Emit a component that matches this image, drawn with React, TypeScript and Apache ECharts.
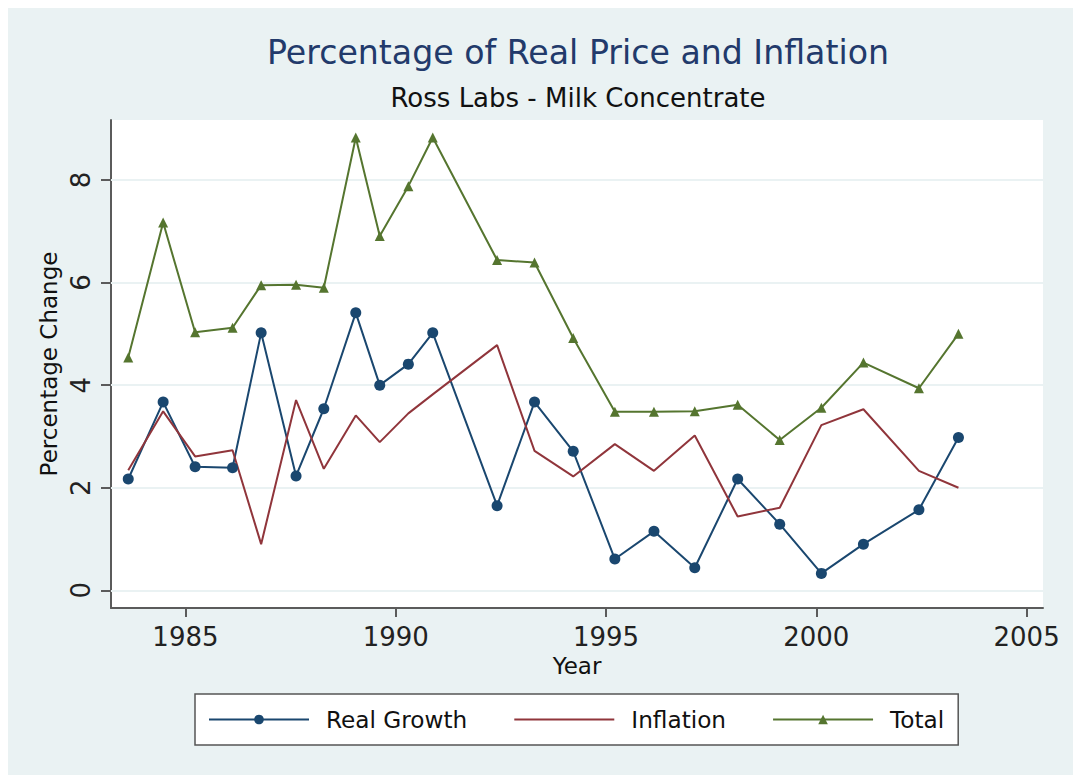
import React, { useEffect, useRef } from "react";
import * as echarts from "echarts";

// Data
const years = [1983.64, 1984.47, 1985.23, 1986.12, 1986.8, 1987.63, 1988.29, 1989.05, 1989.62, 1990.3, 1990.88, 1992.41, 1993.3, 1994.22, 1995.21, 1996.14, 1997.11, 1998.13, 1999.13, 2000.12, 2001.12, 2002.44, 2003.38];
const realGrowth = [2.17, 3.67, 2.41, 2.39, 5.02, 2.23, 3.54, 5.41, 4.0, 4.41, 5.02, 1.65, 3.67, 2.71, 0.61, 1.15, 0.44, 2.17, 1.29, 0.33, 0.9, 1.57, 2.98];
const inflation = [2.34, 3.49, 2.61, 2.73, 0.9, 3.71, 2.37, 3.41, 2.89, 3.45, 3.82, 4.78, 2.72, 2.22, 2.85, 2.33, 3.02, 1.44, 1.61, 3.22, 3.53, 2.33, 2.0];
const total = [4.54, 7.17, 5.03, 5.12, 5.95, 5.96, 5.9, 8.83, 6.91, 7.88, 8.83, 6.44, 6.39, 4.92, 3.48, 3.48, 3.49, 3.62, 2.93, 3.56, 4.44, 3.94, 5.0];

const xTicks = [1985, 1990, 1995, 2000, 2005];
const yTicks = [0, 2, 4, 6, 8];

const titleText = "Percentage of Real Price and Inflation";
const subtitleText = "Ross Labs - Milk Concentrate";
const seriesNames = ["Real Growth", "Inflation", "Total"];

const FONT = "DejaVu Sans";
const BLUE = "#1a476f";
const RED = "#90353b";
const GREEN = "#55752f";
const AXIS = "#5b5b5b";

const pairs = (ys: number[]) => years.map((x, i) => [x, ys[i]]);

export default function App() {
  const ref = useRef<HTMLDivElement>(null);
  useEffect(() => {
    if (!ref.current) return;
    const chart = echarts.init(ref.current, undefined, { renderer: "svg" });
    chart.setOption({
      animation: false,
      backgroundColor: "#eaf2f3",
      textStyle: { fontFamily: FONT },
      title: [
        {
          text: titleText,
          left: 570,
          top: 28,
          padding: 0,
          textAlign: "center",
          textStyle: { fontFamily: FONT, fontSize: 33.2, fontWeight: "normal", color: "#223a6b" },
        },
        {
          text: subtitleText,
          left: 570,
          top: 77,
          padding: 0,
          textAlign: "center",
          textStyle: { fontFamily: FONT, fontSize: 26, fontWeight: "normal", color: "#111" },
        },
      ],
      legend: {
        data: [
          { name: seriesNames[0] },
          { name: seriesNames[1], itemStyle: { opacity: 0 } },
          { name: seriesNames[2] },
        ],
        left: 187,
        top: 686,
        orient: "horizontal",
        padding: [13, 14, 13, 13],
        itemWidth: 100,
        itemHeight: 12,
        itemGap: 46,
        borderColor: "#555",
        borderWidth: 1.5,
        borderRadius: 0,
        backgroundColor: "#ffffff",
        textStyle: { fontFamily: FONT, fontSize: 23.2, color: "#111", padding: [0, 0, 0, 12], lineHeight: 25 },
      },
      grid: {
        left: 103,
        top: 112,
        right: 30,
        bottom: 167,
        show: true,
        backgroundColor: "#ffffff",
        borderWidth: 0,
      },
      xAxis: {
        type: "value",
        min: 1983.23,
        max: 2005.39,
        name: "Year",
        nameLocation: "middle",
        nameGap: 42,
        nameTextStyle: { fontFamily: FONT, fontSize: 23, color: "#111" },
        axisLine: { show: true, onZero: false, lineStyle: { color: AXIS, width: 2 } },
        axisTick: { show: true, customValues: xTicks, length: 9, lineStyle: { color: AXIS, width: 2 } },
        axisLabel: {
          customValues: xTicks,
          formatter: (v: number) => String(v),
          fontFamily: FONT,
          fontSize: 26,
          color: "#222",
          margin: 16,
        },
        splitLine: { show: false },
      },
      yAxis: {
        type: "value",
        min: -0.345,
        max: 9.17,
        name: "Percentage Change",
        nameLocation: "middle",
        nameGap: 49,
        nameTextStyle: { fontFamily: FONT, fontSize: 23, color: "#111" },
        axisLine: { show: true, onZero: false, lineStyle: { color: AXIS, width: 2 } },
        axisTick: { show: true, customValues: yTicks, length: 10, lineStyle: { color: AXIS, width: 2 } },
        axisLabel: {
          customValues: yTicks,
          formatter: (v: number) => String(v),
          rotate: 90,
          fontFamily: FONT,
          fontSize: 26,
          color: "#222",
          margin: 17,
        },
        splitLine: { show: false },
      },
      series: [
        {
          name: "gridlines",
          type: "line",
          data: [],
          silent: true,
          markLine: {
            silent: true,
            z: 1,
            symbol: ["none", "none"],
            label: { show: false },
            emphasis: { disabled: true },
            lineStyle: { color: "#eaf2f3", width: 2, type: "solid" },
            data: yTicks.map((v) => ({ yAxis: v })),
          },
        },
        {
          name: "Real Growth",
          type: "line",
          data: pairs(realGrowth),
          symbol: "circle",
          symbolSize: 11,
          showSymbol: true,
          lineStyle: { color: BLUE, width: 2 },
          itemStyle: { color: BLUE },
        },
        {
          name: "Inflation",
          type: "line",
          data: pairs(inflation),
          symbol: "none",
          lineStyle: { color: RED, width: 2 },
          itemStyle: { color: RED },
        },
        {
          name: "Total",
          type: "line",
          data: pairs(total),
          symbol: "triangle",
          symbolSize: 10,
          showSymbol: true,
          lineStyle: { color: GREEN, width: 2 },
          itemStyle: { color: GREEN },
        },
      ],
    });
    return () => chart.dispose();
  }, []);
  return (
    <div
      ref={ref}
      style={{ position: "fixed", left: 8, top: 8, width: 1065, height: 767 }}
    />
  );
}
